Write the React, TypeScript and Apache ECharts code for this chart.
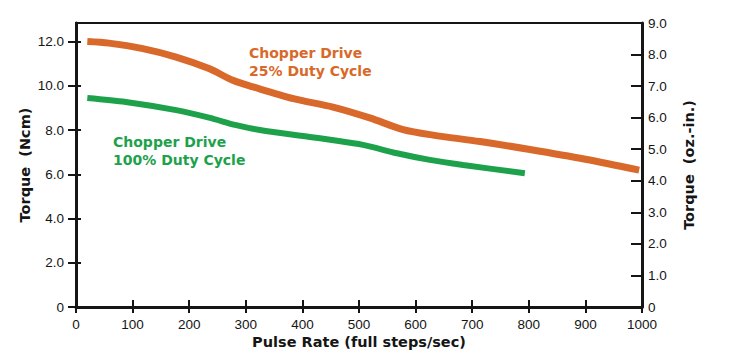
import React, { useEffect, useRef } from "react";
import * as echarts from "echarts";

const orangeX = [20, 58, 118, 177, 235, 277, 313, 384, 454, 519, 578, 631, 714, 802, 900, 995];
const orangeY = [12.0, 11.93, 11.68, 11.3, 10.78, 10.25, 9.95, 9.42, 9.04, 8.55, 8.02, 7.77, 7.48, 7.12, 6.68, 6.19];
const greenX = [20, 88, 177, 235, 283, 325, 413, 449, 507, 567, 625, 684, 793];
const greenY = [9.45, 9.27, 8.9, 8.56, 8.22, 8.0, 7.69, 7.56, 7.33, 6.95, 6.65, 6.42, 6.05];
const leftTicks = [0, 2, 4, 6, 8, 10, 12];
const rightTicks = [0, 1, 2, 3, 4, 5, 6, 7, 8, 9];
const xTicks = [0, 100, 200, 300, 400, 500, 600, 700, 800, 900, 1000];
const orangeLabel = ["Chopper Drive", "25% Duty Cycle"];
const greenLabel = ["Chopper Drive", "100% Duty Cycle"];

const ORANGE = "#D8692A";
const GREEN = "#1DA24B";
const INK = "#151515";
const NAME_FONT = "DejaVu Sans";

export default function App() {
  const ref = useRef<HTMLDivElement>(null);
  useEffect(() => {
    if (!ref.current) return;
    const chart = echarts.init(ref.current, undefined, { renderer: "svg" });
    const fmt1 = (v: number) => (v === 0 ? "0" : v.toFixed(1));
    const labelStyle = { color: INK, fontFamily: "Liberation Sans", fontSize: 13.5 };
    const nameStyle = { color: INK, fontFamily: NAME_FONT, fontWeight: "bold" as const, fontSize: 14.5 };
    chart.setOption({
      animation: false,
      grid: { left: 76, right: 87, top: 23, bottom: 50, show: true, borderColor: INK, borderWidth: 2, backgroundColor: "transparent" },
      xAxis: [
        {
          type: "value", min: 0, max: 1000, interval: 100, position: "bottom",
          axisLine: { show: true, onZero: false, lineStyle: { color: INK, width: 3 } },
          axisTick: { show: true, inside: false, length: 6, lineStyle: { color: INK, width: 2 }, customValues: xTicks },
          axisLabel: { ...labelStyle, margin: 10, customValues: xTicks, formatter: (v: number) => String(v) },
          splitLine: { show: false },
          name: "Pulse Rate (full steps/sec)", nameLocation: "middle", nameGap: 27, nameMoveOverlap: false, nameTextStyle: nameStyle,
        },
        {
          type: "value", min: 0, max: 1000, interval: 100, position: "bottom",
          axisLine: { show: false, onZero: false },
          axisTick: { show: true, inside: true, length: 7, lineStyle: { color: INK, width: 2 }, customValues: xTicks },
          axisLabel: { show: false },
          splitLine: { show: false },
        },
      ],
      yAxis: [
        {
          type: "value", min: 0, max: 12.84, position: "left",
          axisLine: { show: true, onZero: false, lineStyle: { color: INK, width: 3 } },
          axisTick: { show: true, inside: false, length: 8, lineStyle: { color: INK, width: 2 }, customValues: leftTicks },
          axisLabel: { ...labelStyle, margin: 12, formatter: fmt1, customValues: leftTicks },
          splitLine: { show: false },
          name: "Torque  (Ncm)", nameLocation: "middle", nameGap: 44, nameRotate: 90, nameMoveOverlap: false, nameTextStyle: nameStyle,
        },
        {
          type: "value", min: 0, max: 9, interval: 1, position: "right",
          axisLine: { show: true, onZero: false, lineStyle: { color: INK, width: 3 } },
          axisTick: { show: true, inside: true, length: 11, lineStyle: { color: INK, width: 2 }, customValues: rightTicks },
          axisLabel: { ...labelStyle, margin: 6, formatter: fmt1, customValues: rightTicks },
          splitLine: { show: false },
          name: "Torque  (oz.-in.)", nameLocation: "middle", nameGap: 39, nameRotate: 90, nameMoveOverlap: false, nameTextStyle: nameStyle,
        },
        {
          type: "value", min: 0, max: 12.84, position: "left",
          axisLine: { show: false, onZero: false },
          axisTick: { show: true, inside: true, length: 5, lineStyle: { color: INK, width: 2 }, customValues: leftTicks },
          axisLabel: { show: false },
          splitLine: { show: false },
        },
      ],
      series: [
        {
          type: "line", xAxisIndex: 0, yAxisIndex: 0, smooth: 0.3, symbol: "none",
          lineStyle: { color: ORANGE, width: 7 },
          data: orangeX.map((x, i) => [x, orangeY[i]]),
        },
        {
          type: "line", xAxisIndex: 0, yAxisIndex: 0, smooth: 0.3, symbol: "none",
          lineStyle: { color: GREEN, width: 6 },
          data: greenX.map((x, i) => [x, greenY[i]]),
        },
      ],
      graphic: [
        { type: "text", x: 249, y: 53, style: { text: orangeLabel[0], fill: ORANGE, font: `bold 14px ${NAME_FONT}`, verticalAlign: "middle" } },
        { type: "text", x: 249, y: 71, style: { text: orangeLabel[1], fill: ORANGE, font: `bold 14px ${NAME_FONT}`, verticalAlign: "middle" } },
        { type: "text", x: 113, y: 142, style: { text: greenLabel[0], fill: GREEN, font: `bold 14px ${NAME_FONT}`, verticalAlign: "middle" } },
        { type: "text", x: 113, y: 160, style: { text: greenLabel[1], fill: GREEN, font: `bold 14px ${NAME_FONT}`, verticalAlign: "middle" } },
      ],
    });
    return () => chart.dispose();
  }, []);
  return (
    <div
      ref={ref}
      style={{ position: "fixed", left: 0, top: 0, width: 729, height: 357, background: "#fff" }}
    />
  );
}
